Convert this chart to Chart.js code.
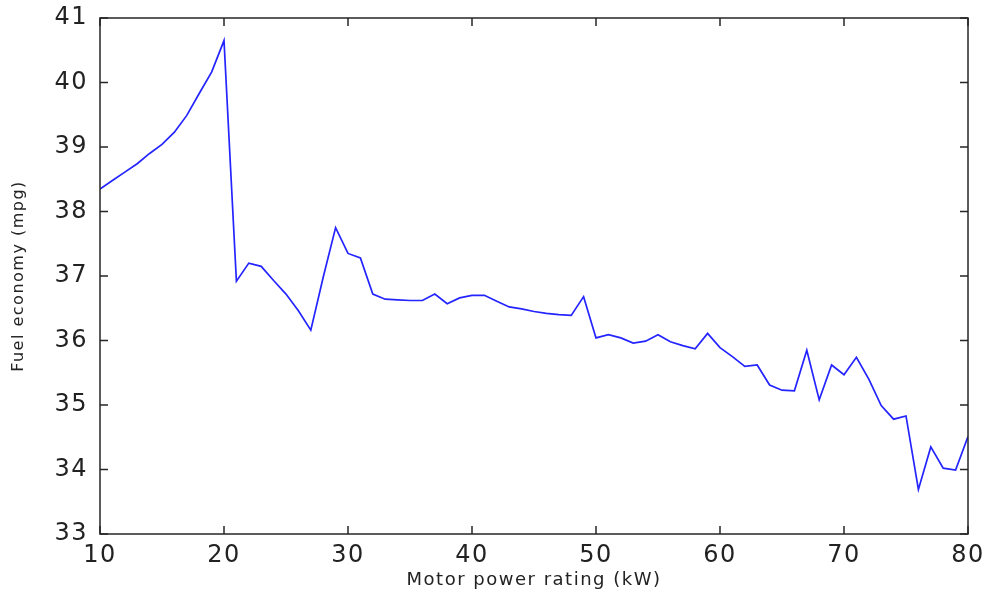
<!DOCTYPE html>
<html>
<head>
<meta charset="utf-8">
<title>Fuel economy vs motor power</title>
<script src="https://cdn.jsdelivr.net/npm/chart.js@4/dist/chart.umd.min.js"></script>
<style>
  html, body { margin: 0; padding: 0; background: #fff; }
  #wrap { width: 989px; height: 592px; }
</style>
</head>
<body>
<div id="wrap"><canvas id="myChart" width="989" height="592"></canvas></div>
<script>
'use strict'

// motor power rating, kW (x values)
let powerRating = [10, 11, 12, 13, 14, 15, 16, 17, 18, 19,
  20, 21, 22, 23, 24, 25, 26, 27, 28, 29,
  30, 31, 32, 33, 34, 35, 36, 37, 38, 39,
  40, 41, 42, 43, 44, 45, 46, 47, 48, 49,
  50, 51, 52, 53, 54, 55, 56, 57, 58, 59,
  60, 61, 62, 63, 64, 65, 66, 67, 68, 69,
  70, 71, 72, 73, 74, 75, 76, 77, 78, 79, 80];

// fuel economy, mpg
let fuelEconomy = [38.35, 38.48, 38.61, 38.74, 38.90, 39.04, 39.23, 39.49, 39.83, 40.16,
  40.65, 36.92, 37.20, 37.15, 36.93, 36.72, 36.46, 36.16, 36.98, 37.75,
  37.35, 37.28, 36.72, 36.64, 36.63, 36.62, 36.62, 36.72, 36.57, 36.66,
  36.70, 36.70, 36.61, 36.52, 36.49, 36.45, 36.42, 36.40, 36.39, 36.68,
  36.04, 36.09, 36.04, 35.96, 35.99, 36.09, 35.98, 35.92, 35.87, 36.11,
  35.89, 35.75, 35.60, 35.62, 35.31, 35.23, 35.22, 35.85, 35.08, 35.62,
  35.47, 35.74, 35.40, 34.99, 34.78, 34.83, 33.69, 34.35, 34.02, 33.99, 34.51];

// axis ranges / tick steps
let xRange = [10, 80];
let yRange = [33, 41];
let xStep = 10;
let yStep = 1;

let points = [];
for (let i = 0; i < powerRating.length; i++) {
  points.push({ x: powerRating[i], y: fuelEconomy[i] });
}

const AXIS_COLOR = '#262626';
const TICK_LEN = 8;

// slightly wider lettering for all the text
let spacing = {
  id: 'spacing',
  beforeLayout(chart) { chart.ctx.letterSpacing = '1.5px'; },
  beforeDraw(chart) { chart.ctx.letterSpacing = '1.5px'; }
};

// box around the plot with tick marks pointing inward on all four sides
let boxTicks = {
  id: 'boxTicks',
  afterDatasetsDraw(chart) {
    let ctx = chart.ctx;
    let a = chart.chartArea;
    let xs = chart.scales.x;
    let ys = chart.scales.y;
    ctx.save();
    ctx.strokeStyle = AXIS_COLOR;
    ctx.lineWidth = 1.5;
    ctx.beginPath();
    xs.ticks.forEach(t => {
      let px = xs.getPixelForValue(t.value);
      ctx.moveTo(px, a.bottom); ctx.lineTo(px, a.bottom - TICK_LEN);
      ctx.moveTo(px, a.top); ctx.lineTo(px, a.top + TICK_LEN);
    });
    ys.ticks.forEach(t => {
      let py = ys.getPixelForValue(t.value);
      ctx.moveTo(a.left, py); ctx.lineTo(a.left + TICK_LEN, py);
      ctx.moveTo(a.right, py); ctx.lineTo(a.right - TICK_LEN, py);
    });
    ctx.stroke();
    ctx.strokeRect(a.left, a.top, a.right - a.left, a.bottom - a.top);
    ctx.restore();
  }
};

let config = {
  type: 'line',
  data: {
    datasets: [{
      data: points,
      borderColor: '#2424ff',
      borderWidth: 1.7,
      pointRadius: 0,
      tension: 0,
      fill: false
    }]
  },
  options: {
    responsive: false,
    animation: false,
    events: [],
    layout: { padding: { left: 0, right: 21, top: 18, bottom: 0 } },
    plugins: {
      legend: { display: false },
      tooltip: { enabled: false }
    },
    scales: {
      x: {
        type: 'linear',
        min: xRange[0],
        max: xRange[1],
        grid: { display: false, drawTicks: false },
        border: { display: false },
        ticks: {
          stepSize: xStep,
          padding: 7,
          color: '#222',
          font: { family: 'DejaVu Sans', size: 24 }
        },
        title: {
          display: true,
          text: 'Motor power rating (kW)',
          color: '#222',
          padding: { top: 0, bottom: 1 },
          font: { family: 'DejaVu Sans', size: 18 }
        },
        afterFit(scale) {
          scale.height = 58;
          scale.paddingLeft = 0;
          scale.paddingRight = 0;
        }
      },
      y: {
        min: yRange[0],
        max: yRange[1],
        grid: { display: false, drawTicks: false },
        border: { display: false },
        ticks: {
          stepSize: yStep,
          padding: 12,
          color: '#222',
          font: { family: 'DejaVu Sans', size: 24 }
        },
        title: {
          display: true,
          text: 'Fuel economy (mpg)',
          color: '#222',
          padding: { top: 9, bottom: 0 },
          font: { family: 'DejaVu Sans', size: 16 }
        },
        afterFit(scale) {
          scale.width = 100;
          scale.paddingTop = 0;
          scale.paddingBottom = 0;
        }
      }
    }
  },
  plugins: [spacing, boxTicks]
};

const ctx = document.getElementById('myChart').getContext('2d');
const myChart = new Chart(ctx, config);
</script>
</body>
</html>
